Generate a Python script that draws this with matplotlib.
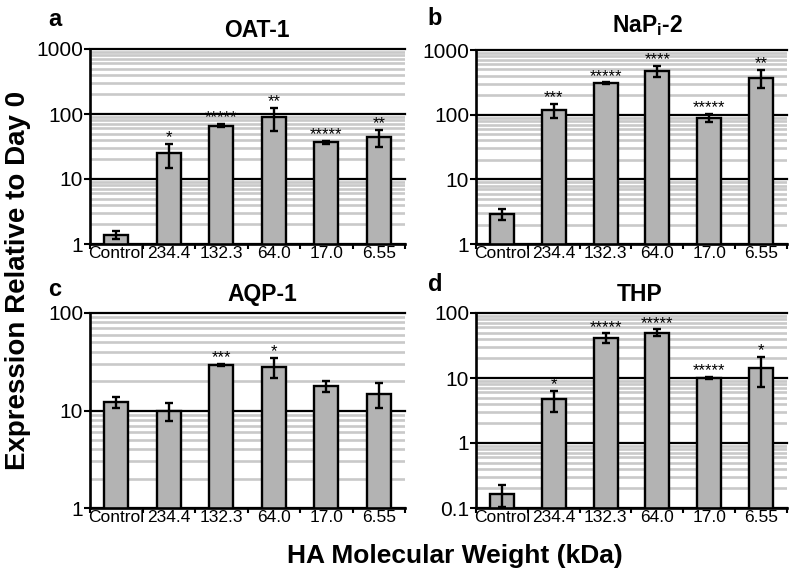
import matplotlib
matplotlib.use("Agg")
import matplotlib.pyplot as plt
import numpy as np
from matplotlib.ticker import FixedLocator, NullFormatter

plt.rcParams['font.family'] = ['Liberation Sans', 'DejaVu Sans']
plt.rcParams['mathtext.fontset'] = 'custom'
plt.rcParams['mathtext.rm'] = 'Liberation Sans'
plt.rcParams['mathtext.bf'] = 'Liberation Sans:bold'
plt.rcParams['mathtext.it'] = 'Liberation Sans:italic'

categories = ['Control', '234.4', '132.3', '64.0', '17.0', '6.55']

oat1 = [1.4, 25, 66, 89, 37, 44]
oat1_err = [0.2, 10, 4, 35, 2, 13]
oat1_stars = ['', '*', '*****', '**', '*****', '**']

napi2 = [2.9, 117, 305, 477, 90, 372]
napi2_err = [0.55, 28, 10, 90, 12, 115]
napi2_stars = ['', '***', '*****', '****', '*****', '**']

aqp1 = [12.2, 9.8, 29.3, 28.1, 17.7, 14.9]
aqp1_err = [1.5, 2.0, 0.7, 6.5, 2.4, 4.2]
aqp1_stars = ['', '', '***', '*', '', '']

thp = [0.164, 4.7, 41.7, 50, 10, 14.3]
thp_err = [0.06, 1.7, 7, 6, 0.5, 7]
thp_stars = ['', '*', '*****', '*****', '*****', '*']

W, H = 800, 579
fig = plt.figure(figsize=(W / 100, H / 100), dpi=100)


def px_axes(left, top, right, bottom):
    return fig.add_axes([left / W, 1 - bottom / H, (right - left) / W, (bottom - top) / H])


panels = [
    dict(box=(90, 49, 405, 244), vals=oat1, err=oat1_err, stars=oat1_stars,
         ylim=(1, 1000), yt=[1, 10, 100, 1000], ytl=['1', '10', '100', '1000'],
         title='OAT-1', tpos=(257, 37), letter='a', lpos=(55, 26)),
    dict(box=(476, 50, 787, 244), vals=napi2, err=napi2_err, stars=napi2_stars,
         ylim=(1, 1000), yt=[1, 10, 100, 1000], ytl=['1', '10', '100', '1000'],
         title=r'NaP$_{\mathbf{i}}$-2', tpos=(648, 32), letter='b', lpos=(435, 25)),
    dict(box=(90, 313, 405, 508), vals=aqp1, err=aqp1_err, stars=aqp1_stars,
         ylim=(1, 100), yt=[1, 10, 100], ytl=['1', '10', '100'],
         title='AQP-1', tpos=(262, 301), letter='c', lpos=(55, 296)),
    dict(box=(476, 313, 787, 508), vals=thp, err=thp_err, stars=thp_stars,
         ylim=(0.1, 100), yt=[0.1, 1, 10, 100], ytl=['0.1', '1', '10', '100'],
         title='THP', tpos=(640, 301), letter='d', lpos=(435, 291)),
]

x = np.arange(len(categories))

for p in panels:
    ax = px_axes(*p['box'])
    ax.set_yscale('log')
    ax.set_ylim(*p['ylim'])
    ax.set_xlim(-0.5, len(categories) - 0.5)
    # gridlines
    lo, hi = np.log10(p['ylim'][0]), np.log10(p['ylim'][1])
    for d in range(int(round(lo)), int(round(hi))):
        for s in range(2, 10):
            ax.axhline(s * 10.0 ** d, color='#c9c9c9', lw=1.9, zorder=0)
    for t in p['yt']:
        ax.axhline(t, color='black', lw=1.6, zorder=0.5, clip_on=False)
    ax.bar(x, p['vals'], width=0.46, color='#b3b3b3', edgecolor='black',
           linewidth=1.7, zorder=2)
    ax.errorbar(x, p['vals'], yerr=p['err'], fmt='none', ecolor='black',
                elinewidth=1.7, capsize=3.2, capthick=1.7, zorder=3)
    for xi, v, e, s in zip(x, p['vals'], p['err'], p['stars']):
        if s:
            ax.annotate(s, (xi, v + e), xytext=(0, -1), textcoords='offset points',
                        ha='center', va='bottom', fontsize=12, zorder=4)
    for side in ['top', 'right']:
        ax.spines[side].set_visible(False)
    for side in ['left', 'bottom']:
        ax.spines[side].set_linewidth(1.9)
    ax.yaxis.set_major_locator(FixedLocator(p['yt']))
    ax.yaxis.set_minor_locator(FixedLocator([]))
    ax.set_yticklabels(p['ytl'], fontsize=15)
    ax.yaxis.set_minor_formatter(NullFormatter())
    ax.tick_params(axis='y', which='major', direction='out', length=4, width=1.5, pad=1)
    ax.set_xticks(np.arange(-0.5, len(categories)), minor=False)
    ax.set_xticklabels([])
    ax.set_xticks(x, minor=True)
    ax.set_xticklabels(categories, minor=True, fontsize=12.5)
    ax.tick_params(axis='x', which='major', direction='out', length=3.5, width=1.5)
    ax.tick_params(axis='x', which='minor', length=0, pad=1.5)
    fig.text(p['tpos'][0] / W, 1 - p['tpos'][1] / H, p['title'], ha='center',
             va='baseline', fontsize=16.5, fontweight='bold')
    fig.text(p['lpos'][0] / W, 1 - p['lpos'][1] / H, p['letter'], ha='center',
             va='baseline', fontsize=17, fontweight='bold')

fig.text(18 / W, 1 - 280 / H, 'Expression Relative to Day 0', rotation=90,
         ha='center', va='center', fontsize=20, fontweight='bold')
fig.text(455 / W, 1 - 556 / H, 'HA Molecular Weight (kDa)', ha='center',
         va='center', fontsize=19, fontweight='bold')

fig.savefig('out.png', dpi=100)
